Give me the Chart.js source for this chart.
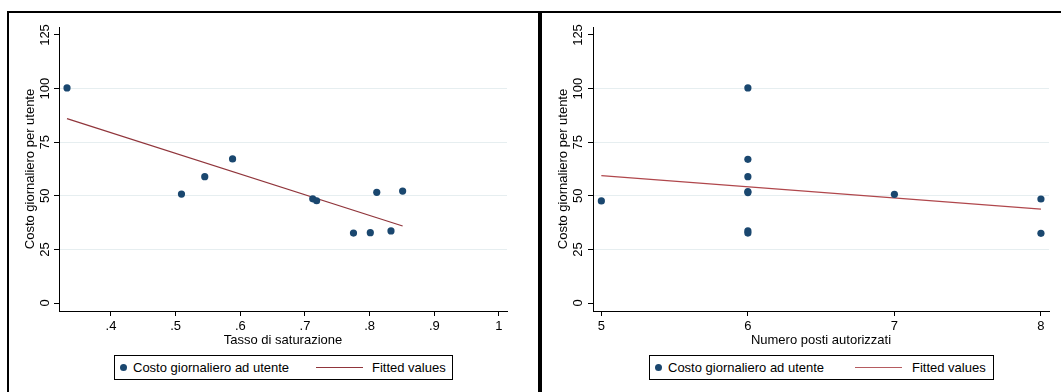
<!DOCTYPE html>
<html>
<head>
<meta charset="utf-8">
<script src="https://cdn.jsdelivr.net/npm/chart.js@4/dist/chart.umd.min.js"></script>
<style>
  html, body { margin: 0; padding: 0; background: #fff; overflow: hidden; }
  body { width: 1061px; height: 392px; position: relative; font-family: 'Liberation Sans', Arial, sans-serif; }
  canvas { position: absolute; top: 0; }
  .pannello { position: absolute; top: 11px; height: 420px; border: 2px solid #000; box-sizing: border-box; pointer-events: none; }
  .legenda { position: absolute; top: 355px; height: 25px; border: 1px solid #000; box-sizing: border-box; font-size: 13px; color: #000; background: #fff; }
  .legenda span { position: absolute; top: 4px; white-space: nowrap; }
  .legenda .punto { top: 8px; width: 7px; height: 7px; border-radius: 50%; background: #1a476f; }
  .legenda .linea { top: 11px; height: 1px; width: 47px; }
</style>
</head>
<body>
<canvas id="graficoSaturazione" width="540" height="392" style="left:0"></canvas>
<canvas id="graficoPosti" width="521" height="392" style="left:540px"></canvas>

<div class="pannello" style="left:7px; width:533px"></div>
<div class="pannello" style="left:540px; width:540px"></div>

<div class="legenda" style="left:114px; width:339px">
  <span class="punto" style="left:5px"></span>
  <span style="left:18px">Costo giornaliero ad utente</span>
  <span class="linea" style="left:201px; background:#90353b"></span>
  <span style="left:257px">Fitted values</span>
</div>
<div class="legenda" style="left:649px; width:345px">
  <span class="punto" style="left:5px"></span>
  <span style="left:18px">Costo giornaliero ad utente</span>
  <span class="linea" style="left:205px; background:#b55b60"></span>
  <span style="left:262px">Fitted values</span>
</div>

<script>
// Costo giornaliero per utente vs tasso di saturazione
const tassoSaturazione = [0.332, 0.509, 0.545, 0.588, 0.712, 0.718, 0.775, 0.801, 0.811, 0.833, 0.851];
const costoSaturazione = [100.3, 50.8, 58.9, 67.2, 48.6, 47.7, 32.6, 32.8, 51.6, 33.6, 52.2];
const fittedXSaturazione = [0.332, 0.851];
const fittedYSaturazione = [86.0, 35.9];

// Costo giornaliero per utente vs numero posti autorizzati
const postiAutorizzati = [5, 6, 6, 6, 6, 6, 6, 6, 7, 8, 8];
const costoPosti = [47.6, 100.3, 67.0, 58.9, 52.0, 51.5, 33.6, 32.6, 50.7, 48.5, 32.5];
const fittedXPosti = [5, 8];
const fittedYPosti = [59.4, 43.8];

// Tick degli assi
const yTicks = [0, 25, 50, 75, 100, 125];
const xTicksSaturazione = [0.4, 0.5, 0.6, 0.7, 0.8, 0.9, 1];
const xLabelsSaturazione = ['.4', '.5', '.6', '.7', '.8', '.9', '1'];
const xTicksPosti = [5, 6, 7, 8];
const xLabelsPosti = ['5', '6', '7', '8'];

const FONT = "'Liberation Sans', Arial, sans-serif";
const COLORE_PUNTI = '#1a476f';
const COLORE_GRIGLIA = '#e6eef0';

// Etichette dell'asse y ruotate in verticale, come nei grafici Stata
function etichetteYVerticali(centroX) {
  return {
    id: 'etichetteY',
    afterDraw(chart) {
      const ctx = chart.ctx;
      const scala = chart.scales.y;
      ctx.save();
      ctx.font = '13px ' + FONT;
      ctx.fillStyle = '#000';
      ctx.textAlign = 'center';
      ctx.textBaseline = 'middle';
      scala.ticks.forEach(t => {
        const y = scala.getPixelForValue(t.value);
        ctx.save();
        ctx.translate(centroX, y);
        ctx.rotate(-Math.PI / 2);
        ctx.fillText(String(t.value), 0, 0);
        ctx.restore();
      });
      ctx.restore();
    }
  };
}

function creaGrafico(id, cfg) {
  const ctx = document.getElementById(id).getContext('2d');
  const punti = cfg.x.map((v, i) => ({ x: v, y: cfg.y[i] }));
  const retta = cfg.fitX.map((v, i) => ({ x: v, y: cfg.fitY[i] }));

  return new Chart(ctx, {
    type: 'scatter',
    data: {
      datasets: [{
        label: 'Costo giornaliero ad utente',
        data: punti,
        backgroundColor: COLORE_PUNTI,
        pointRadius: 3.6,
        pointBorderWidth: 0,
        order: 1
      }, {
        type: 'line',
        label: 'Fitted values',
        data: retta,
        borderColor: cfg.coloreRetta,
        borderWidth: 1.2,
        pointRadius: 0,
        fill: false,
        order: 2
      }]
    },
    options: {
      responsive: false,
      animation: false,
      layout: { padding: { left: 0, top: 27, right: cfg.padDestra, bottom: 0 } },
      plugins: {
        legend: { display: false },
        tooltip: { enabled: false }
      },
      scales: {
        x: {
          type: 'linear',
          min: cfg.xMin,
          max: cfg.xMax,
          afterBuildTicks: s => { s.ticks = cfg.xTicks.map(v => ({ value: v })); },
          afterFit: s => { s.height = 392 - 311; },
          border: { display: true, color: '#000', width: 1 },
          grid: { drawOnChartArea: false, tickLength: 5, tickColor: '#000' },
          ticks: {
            autoSkip: false,
            maxRotation: 0,
            padding: 3,
            color: '#000',
            font: { family: FONT, size: 13 },
            callback: (v, i) => cfg.xLabels[i]
          },
          title: {
            display: true,
            text: cfg.titoloX,
            color: '#000',
            font: { family: FONT, size: 13 },
            padding: { top: 0, bottom: 44 }
          }
        },
        y: {
          type: 'linear',
          min: -3.73,
          max: 128.73,
          afterBuildTicks: s => { s.ticks = yTicks.map(v => ({ value: v })); },
          afterFit: s => { s.width = cfg.asseSinistra; },
          border: { display: true, color: '#000', width: 1 },
          grid: {
            color: c => (c.tick && (c.tick.value === 0 || c.tick.value === 125)) ? 'rgba(0,0,0,0)' : COLORE_GRIGLIA,
            tickColor: '#000',
            tickLength: 5
          },
          ticks: { display: false },
          title: {
            display: true,
            text: 'Costo giornaliero per utente',
            color: '#000',
            font: { family: FONT, size: 13 },
            padding: { top: cfg.padTitoloY, bottom: 0 }
          }
        }
      }
    },
    plugins: [etichetteYVerticali(cfg.centroEtichetteY)]
  });
}

let graficoSaturazione;
let graficoPosti;

window.onload = function() {
  graficoSaturazione = creaGrafico('graficoSaturazione', {
    x: tassoSaturazione, y: costoSaturazione,
    fitX: fittedXSaturazione, fitY: fittedYSaturazione,
    coloreRetta: '#90353b',
    xMin: 0.3196, xMax: 1.0124,
    xTicks: xTicksSaturazione, xLabels: xLabelsSaturazione,
    titoloX: 'Tasso di saturazione',
    padDestra: 540 - 507,
    asseSinistra: 59,
    padTitoloY: 23,
    centroEtichetteY: 45
  });

  graficoPosti = creaGrafico('graficoPosti', {
    x: postiAutorizzati, y: costoPosti,
    fitX: fittedXPosti, fitY: fittedYPosti,
    coloreRetta: '#b0474c',
    xMin: 4.943, xMax: 8.055,
    xTicks: xTicksPosti, xLabels: xLabelsPosti,
    titoloX: 'Numero posti autorizzati',
    padDestra: 521 - 509,
    asseSinistra: 53,
    padTitoloY: 16,
    centroEtichetteY: 38
  });
};
</script>
</body>
</html>
